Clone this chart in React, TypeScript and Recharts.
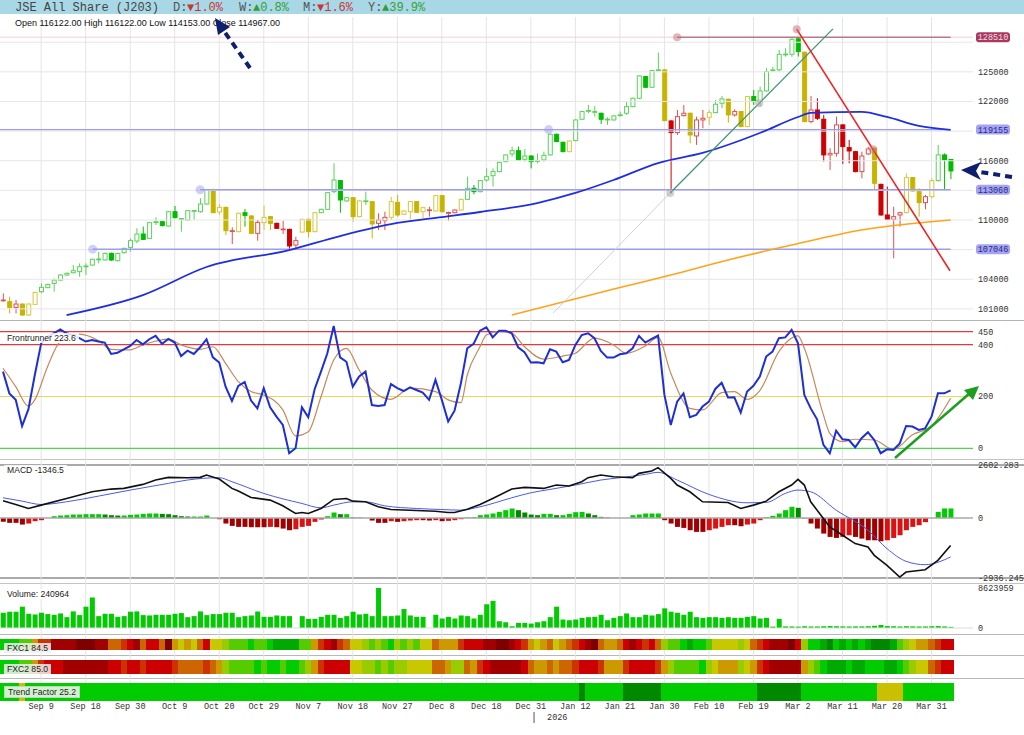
import React from "react";
import {
  ComposedChart,
  Bar,
  Line,
  XAxis,
  YAxis,
  ReferenceLine,
  ReferenceDot,
  Cell,
} from "recharts";

const W = 1024;
const PLOT_RIGHT = 973;
const AXIS_W = W - PLOT_RIGHT;
const X_DOMAIN: [number, number] = [-0.4717, 152.52];
const ZERO = { top: 0, right: 0, bottom: 0, left: 0 };
const PAD = { top: 6, right: 0, bottom: 6, left: 0 };
const MONO = '"Liberation Mono", "DejaVu Sans Mono", monospace';
const SANS = '"Liberation Sans", Arial, sans-serif';

// ---- price candles (Sep 1 2025 .. early Apr 2026) ----
const OPEN = [
  101830, 101730, 101150, 101490, 100380, 101460, 102740, 103150, 103580, 103920,
  104430, 104660, 104770, 105290, 105440, 106000, 105950, 106620, 105880, 106690,
  107230, 107870, 108580, 108140, 109780, 109830, 109390, 110840, 110100, 110000,
  110920, 110840, 111620, 112940, 110810, 111280, 108890, 108820, 110740, 110410,
  108650, 109730, 110340, 109660, 109060, 109050, 107470, 108780, 110070, 108820,
  110740, 111080, 112870, 113990, 111930, 112260, 110340, 111900, 111860, 109660,
  109930, 110270, 111790, 110570, 110840, 111860, 110840, 110990, 110910, 112470,
  110720, 110740, 111010, 112090, 113210, 112870, 114050, 114490, 114900, 115910,
  116690, 117020, 116150, 116480, 115960, 116080, 116590, 118680, 117870, 116920,
  118040, 120200, 121050, 120950, 120810, 120180, 120130, 120620, 120810, 121480,
  122330, 124520, 123440, 125170, 125200, 120030, 118850, 120570, 120810, 118510,
  120130, 120400, 120870, 121820, 122230, 120640, 120980, 119460, 122500, 121990,
  123070, 125150, 125200, 126760, 126780, 128350, 126990, 119960, 121140, 120200,
  116590, 116750, 119630, 117330, 116920, 114900, 116690, 117260, 113610, 110510,
  110070, 110510, 110740, 114290, 112870, 111760, 112360, 113990, 116590, 116122,
];
const HIGH = [
  102570, 102230, 101900, 101560, 101560, 102740, 103580, 103550, 104090, 104500,
  104700, 105440, 105610, 105610, 106100, 106790, 106700, 106700, 106700, 107200,
  108140, 109160, 109330, 109800, 110270, 109900, 110900, 111420, 110200, 111000,
  111010, 112200, 113100, 113040, 111620, 111350, 109260, 110750, 111110, 110470,
  110000, 111450, 110400, 109730, 109900, 109120, 108310, 110130, 110130, 110800,
  111150, 112830, 115740, 114050, 112330, 112330, 112000, 112870, 111920, 110680,
  110840, 112360, 112530, 110980, 111920, 111920, 111350, 111350, 112530, 112530,
  110840, 111080, 112160, 114390, 113550, 114050, 115230, 115230, 115900, 116650,
  117430, 117430, 117190, 116550, 116750, 116920, 118740, 118740, 117930, 118070,
  120200, 121040, 121650, 121550, 120870, 120400, 120600, 120980, 121990, 122390,
  124650, 124590, 125200, 126950, 125260, 120100, 121140, 121650, 120870, 120470,
  121140, 121140, 122160, 122560, 122290, 121210, 121040, 122560, 123170, 123510,
  125370, 125530, 127220, 127390, 128400, 128510, 127050, 122560, 122330, 120640,
  117260, 120470, 119690, 118110, 116990, 116920, 117430, 117330, 113680, 113380,
  111350, 110840, 114730, 114350, 113210, 112530, 114220, 117600, 116750, 116122,
];
const LOW = [
  101730, 100540, 100540, 100310, 100310, 101400, 102570, 103100, 102740, 103850,
  104350, 104600, 104260, 104430, 105350, 105610, 105900, 105850, 105800, 106600,
  106790, 107640, 107970, 108100, 109490, 109350, 109350, 110170, 108820, 109950,
  110000, 110740, 111550, 110700, 110510, 108480, 107570, 108750, 109330, 108580,
  107910, 108990, 108990, 109090, 108580, 106960, 107130, 108720, 108240, 108750,
  110700, 111020, 112700, 110740, 111850, 109830, 110270, 111520, 108140, 108990,
  108990, 110000, 110340, 110500, 110070, 110700, 110170, 110340, 110850, 110780,
  109930, 110680, 110950, 112030, 112600, 112800, 113880, 113380, 114830, 115850,
  116420, 115980, 115910, 115230, 115740, 115910, 116520, 117870, 116860, 116860,
  117970, 120130, 120810, 120470, 119730, 119630, 120070, 120470, 120640, 121420,
  122260, 123370, 123370, 125130, 120000, 112700, 118610, 120470, 117770, 117600,
  119290, 119630, 120810, 121310, 119860, 120470, 119390, 119390, 121650, 121480,
  123000, 125030, 125030, 126540, 126540, 126550, 119900, 119790, 120130, 115910,
  115070, 116420, 115670, 115740, 114830, 114220, 116590, 113040, 110440, 110000,
  106120, 109330, 110680, 112870, 110340, 111080, 112200, 113900, 113040, 114153,
];
const CLOSE = [
  101900, 101150, 101490, 100380, 101490, 102670, 103180, 103480, 103920, 104430,
  104600, 104870, 105270, 105340, 106020, 106050, 106620, 105950, 106620, 107130,
  107910, 108580, 108040, 109730, 109830, 109430, 110840, 110240, 110150, 110950,
  110960, 111620, 113040, 110740, 111280, 108920, 108920, 110680, 110470, 108650,
  109760, 110270, 109660, 109160, 109090, 107370, 107910, 110070, 108820, 110740,
  111080, 112770, 114050, 112030, 112260, 110340, 111930, 111940, 109600, 110000,
  110270, 111860, 110510, 110910, 111860, 110780, 111250, 111030, 112470, 110840,
  110760, 111010, 112090, 113210, 112870, 113990, 114390, 114900, 115840, 116590,
  117020, 116080, 116480, 115910, 116000, 116550, 118680, 117940, 116920, 118000,
  120130, 120980, 121080, 120980, 120200, 120210, 120540, 120650, 121480, 122330,
  124590, 123440, 125130, 125200, 120060, 118850, 120470, 120810, 118610, 120130,
  120300, 120870, 121720, 122260, 120640, 120980, 119460, 122500, 121990, 123070,
  125030, 125200, 126780, 126800, 128300, 127050, 119960, 121140, 120300, 116590,
  116750, 119630, 117430, 116990, 114900, 116480, 117190, 113720, 110510, 110070,
  110340, 110740, 114290, 112940, 111760, 112360, 113990, 116590, 116080, 114967,
];
// trend state of each candle: g = green, y = yellow, r = red
const TONE = [
  "r", "y", "r", "y", "y", "y", "g", "g", "g", "g",
  "g", "g", "g", "g", "g", "g", "g", "g", "g", "g",
  "g", "g", "g", "g", "g", "g", "g", "g", "g", "g",
  "g", "g", "g", "y", "y", "y", "r", "y", "g", "y",
  "r", "y", "y", "r", "r", "r", "r", "y", "y", "y",
  "g", "g", "g", "g", "g", "y", "y", "g", "y", "r",
  "r", "y", "y", "y", "y", "y", "y", "r", "y", "y",
  "r", "r", "y", "g", "g", "g", "g", "g", "g", "g",
  "g", "g", "g", "g", "g", "g", "g", "g", "g", "y",
  "g", "g", "g", "g", "g", "g", "g", "g", "g", "g",
  "g", "g", "g", "g", "y", "r", "r", "r", "y", "r",
  "r", "y", "g", "g", "y", "r", "y", "y", "g", "g",
  "g", "g", "g", "g", "g", "g", "y", "r", "r", "r",
  "r", "r", "r", "r", "r", "r", "r", "y", "r", "r",
  "r", "r", "y", "y", "y", "r", "y", "g", "g", "g",
];

// moving averages (read at these candle indices)
const MA50_AT = [10, 22, 32, 45, 53, 62, 69, 75, 84, 90, 96, 103, 110, 119, 125, 127, 135, 139, 144, 149];
const MA50 = [100380, 102400, 105240, 106960, 108380, 109700, 110300, 110810, 111720, 112740, 114050, 115770, 116790, 118810, 120430, 120840, 120940, 120430, 119520, 119120];
const MA200_AT = [80, 97, 105, 114, 124, 135, 149];
const MA200 = [100380, 103160, 104430, 105950, 107470, 108990, 110000];

// drawn levels and trend lines
const LEVELS = [128510, 119155, 113060, 107046];
const LEVEL_FROM = [106, X_DOMAIN[0], 31, 14.1];
const LEVEL_TO = 149;
const PRICE_GRID = [101000, 104000, 107000, 110000, 113000, 116000, 119000, 122000, 125000, 128000];
const PRICE_TICKS = [101000, 104000, 110000, 116000, 122000, 125000, 107046, 113060, 119155, 128510];
const RED_LINE = [[124.8, 129320], [148.9, 104860]];
const GREEN_LINE = [[104.9, 112735], [130.5, 129350]];
const GREEN_EXT = [[86.5, 100580], [104.9, 112735]];
const BLUE_DOTS = [[31, 113060], [14.1, 107046], [85.8, 119155]];
const PINK_DOTS = [[106, 128510], [124.8, 129320], [136.8, 117170]];
const GRAY_DOTS = [[104.9, 112735], [118.9, 121820]];

// Frontrunner oscillator
const FR = [
  296, 212, 187, 86, 151, 283, 405, 431, 444, 459,
  444, 437, 425, 412, 418, 412, 408, 364, 369, 382,
  395, 418, 401, 421, 434, 403, 422, 408, 356, 377,
  364, 390, 421, 351, 331, 238, 183, 241, 256, 184,
  154, 232, 158, 122, 90, -19, 0, 158, 120, 228,
  296, 367, 472, 351, 334, 238, 277, 296, 167, 163,
  167, 248, 232, 221, 235, 225, 215, 187, 264, 187,
  103, 145, 251, 386, 403, 454, 467, 428, 454, 454,
  444, 390, 371, 331, 332, 328, 382, 373, 332, 341,
  399, 437, 444, 425, 376, 350, 350, 363, 367, 386,
  434, 408, 422, 435, 206, 90, 180, 212, 120, 129,
  161, 180, 229, 253, 196, 197, 138, 219, 241, 277,
  354, 373, 425, 428, 457, 405, 206, 154, 112, 13,
  -19, 68, 35, 32, 4, 39, 62, 32, -19, -4,
  -6, 19, 86, 84, 71, 77, 122, 212, 212, 223.6,
];
const FRS_AT = [0, 2, 4, 5, 7, 9, 12, 15, 17, 20, 22, 26, 28, 31, 33, 35, 37, 39, 41, 44, 46, 48, 50, 52, 54, 56, 58, 61, 64, 68, 70, 72, 73, 75, 76, 78, 80, 82, 85, 88, 90, 93, 96, 98, 101, 103, 105, 108, 110, 113, 115, 117, 119, 122, 125, 126, 129, 130, 132, 134, 137, 140, 143, 146, 149];
const FRS = [309, 238, 163, 187, 315, 412, 441, 416, 382, 380, 399, 421, 399, 382, 392, 328, 257, 219, 206, 148, 48, 64, 199, 341, 386, 302, 225, 189, 232, 219, 187, 176, 283, 392, 437, 450, 444, 392, 344, 356, 367, 425, 399, 367, 395, 428, 290, 154, 148, 215, 219, 189, 223, 373, 434, 386, 129, 58, 26, 35, 32, -4, 52, 86, 193];
const FR_LEVELS = [450, 400, 200, 0];

// MACD
const MACD_AT = [0, 2, 4, 6, 10, 14, 17, 19, 22, 24, 26, 29, 31, 32, 34, 36, 37, 39, 42, 44, 46, 47, 48, 50, 52, 54, 55, 57, 59, 61, 65, 68, 70, 71, 73, 75, 77, 80, 82, 85, 87, 89, 91, 92, 94, 96, 99, 100, 102, 103, 105, 106, 108, 110, 114, 116, 118, 120, 122, 124, 125, 126, 127, 129, 130, 132, 134, 136, 137, 139, 141, 142, 145, 147, 149];
const MACD = [848, 667, 471, 635, 963, 1291, 1422, 1455, 1652, 1865, 1996, 1980, 1996, 2111, 1914, 1455, 1323, 1012, 881, 602, 225, 274, 225, 471, 913, 963, 831, 799, 553, 421, 372, 339, 274, 274, 438, 667, 963, 1422, 1504, 1455, 1619, 1570, 1783, 1980, 2111, 2029, 1980, 2193, 2307, 2472, 1947, 1619, 1291, 799, 766, 471, 635, 831, 1291, 1619, 1897, 1619, 799, -21, -431, -841, -1251, -1415, -1825, -2317, -2891, -2645, -2530, -2071, -1347];
const SIG_AT = [0, 3, 6, 10, 15, 20, 26, 29, 34, 36, 41, 47, 50, 52, 55, 57, 60, 65, 69, 72, 75, 80, 83, 86, 90, 94, 97, 101, 103, 106, 111, 117, 120, 123, 125, 127, 131, 136, 139, 142, 145, 149];
const SIG = [995, 831, 667, 799, 1077, 1373, 1701, 1865, 1980, 1783, 1209, 717, 503, 635, 799, 799, 602, 471, 421, 389, 553, 995, 1241, 1405, 1619, 1865, 1980, 2143, 2242, 1865, 1160, 750, 766, 1209, 1373, 1291, 389, -595, -1497, -2120, -2284, -1907];
const HIST = [
  -185, -234, -234, -317, -267, -152, -103, 0, 93, 126,
  143, 175, 175, 192, 192, 192, 175, 143, 126, 126,
  159, 175, 208, 225, 225, 208, 192, 143, 93, 77,
  77, 77, 126, 0, -54, -267, -382, -431, -431, -448,
  -448, -448, -431, -448, -513, -595, -546, -431, -382, -185,
  -70, 93, 274, 192, 192, 28, 28, 0, -120, -234,
  -234, -152, -185, -152, -120, -103, -103, -120, -103, -152,
  -136, -103, -54, 28, 44, 143, 175, 225, 307, 389,
  471, 389, 274, 175, 143, 208, 208, 143, 143, 208,
  290, 307, 225, 143, 61, 28, 0, 0, 0, 143,
  175, 225, 225, 225, -103, -267, -431, -481, -595, -677,
  -677, -595, -513, -431, -349, -349, -399, -317, -267, -103,
  44, 110, 225, 389, 553, 504, -21, -267, -513, -759,
  -923, -972, -923, -841, -923, -1005, -1087, -1087, -1136, -1087,
  -972, -841, -595, -431, -349, -200, 0, 305, 473, 473,
];
const MACD_RANGE: [number, number] = [-2936.245, 2602.283];

// Volume
const VOL = [
  3290000, 3510000, 3510000, 4600000, 3070000, 2920000, 3290000, 3000000, 2850000, 3140000,
  2340000, 3580000, 2780000, 4600000, 6580000, 2560000, 3070000, 3070000, 2410000, 2560000,
  3510000, 3580000, 2780000, 2700000, 2850000, 2850000, 2850000, 3070000, 3220000, 2340000,
  2560000, 3580000, 2780000, 3000000, 3000000, 3290000, 3290000, 2340000, 2560000, 2700000,
  3580000, 2410000, 2410000, 2700000, 2560000, 2560000, 0, 2560000, 1970000, 1970000,
  2410000, 2850000, 2850000, 2190000, 2560000, 3510000, 2920000, 3070000, 2560000, 8623959,
  2560000, 2560000, 2700000, 4090000, 2700000, 2410000, 2410000, 0, 2850000, 2050000,
  2410000, 2050000, 2700000, 2560000, 2050000, 2850000, 5120000, 5850000, 1460000, 1240000,
  370000, 1100000, 1100000, 950000, 1240000, 1460000, 2340000, 4600000, 1830000, 1680000,
  1830000, 2190000, 2340000, 2410000, 2850000, 1680000, 2190000, 2560000, 3140000, 2340000,
  2340000, 2850000, 2700000, 3000000, 4240000, 3510000, 3290000, 2850000, 3510000, 2340000,
  2190000, 2340000, 2340000, 2190000, 2340000, 2190000, 2190000, 2410000, 2560000, 2050000,
  2190000, 300000, 1970000, 350000, 330000, 300000, 380000, 330000, 330000, 380000,
  420000, 380000, 350000, 330000, 350000, 350000, 380000, 480000, 650000, 420000,
  380000, 330000, 380000, 350000, 330000, 330000, 380000, 420000, 330000, 240964,
];
const VOL_MAX = 8623959;

// FXC heat strips: 0 = deep red ... 11 = deep green
const FXC1 = [
  9, 9, 9, 8, 8, 5, 3, 3, 1, 1,
  1, 1, 0, 0, 0, 1, 1, 4, 4, 3,
  2, 1, 4, 2, 2, 4, 0, 5, 6, 5,
  6, 4, 2, 6, 6, 7, 8, 8, 8, 9,
  8, 8, 9, 10, 10, 10, 10, 8, 8, 5,
  3, 2, 1, 3, 4, 6, 6, 7, 8, 7,
  8, 9, 7, 8, 7, 8, 6, 6, 4, 5,
  5, 5, 3, 2, 2, 2, 1, 1, 0, 0,
  1, 2, 3, 5, 6, 5, 4, 6, 5, 4,
  3, 2, 1, 0, 4, 5, 5, 4, 2, 1,
  2, 3, 2, 4, 7, 8, 8, 9, 10, 9,
  9, 8, 6, 6, 6, 6, 7, 6, 4, 3,
  2, 1, 1, 1, 0, 2, 7, 9, 9, 10,
  11, 9, 10, 9, 10, 9, 10, 11, 11, 11,
  10, 8, 7, 6, 5, 5, 4, 3, 2, 2,
];
const FXC2 = [
  9, 9, 9, 8, 8, 5, 3, 2, 2, 2,
  1, 1, 1, 1, 1, 1, 1, 2, 2, 3,
  2, 2, 3, 2, 2, 2, 2, 3, 4, 4,
  4, 4, 3, 4, 5, 7, 8, 8, 8, 8,
  9, 8, 9, 9, 8, 9, 9, 8, 7, 5,
  3, 2, 2, 2, 2, 6, 6, 7, 7, 8,
  7, 8, 7, 7, 6, 6, 6, 6, 4, 4,
  5, 7, 7, 4, 5, 3, 2, 1, 1, 1,
  1, 1, 2, 4, 5, 5, 4, 5, 4, 4,
  3, 2, 2, 2, 3, 5, 5, 5, 3, 2,
  2, 2, 2, 3, 5, 7, 8, 8, 8, 8,
  9, 7, 6, 5, 5, 5, 7, 6, 5, 3,
  2, 1, 1, 1, 1, 1, 5, 7, 8, 9,
  10, 10, 10, 9, 10, 10, 9, 9, 9, 10,
  10, 9, 8, 7, 6, 6, 4, 3, 2, 2,
];
const TREND_DARK = [91, 98, 99, 100, 101, 102, 103, 119, 120, 121, 122, 123, 124, 125];
const TREND_YELLOW = [3, 138, 139, 140, 141];

// date axis
const TICK_IDX = [6, 13, 20, 27, 34, 41, 48, 55, 62, 69, 76, 83, 90, 97, 104, 111, 118, 125, 132, 139, 146];
const TICK_TXT = ["Sep 9", "Sep 18", "Sep 30", "Oct 9", "Oct 20", "Oct 29", "Nov 7", "Nov 18", "Nov 27", "Dec 8", "Dec 18", "Dec 31", "Jan 12", "Jan 21", "Jan 30", "Feb 10", "Feb 19", "Mar 2", "Mar 11", "Mar 20", "Mar 31"];
const YEAR_AT = 83.5;

const HEAT = ["#800000", "#a00000", "#cc0000", "#cc3300", "#cc6600", "#cc9900", "#c8c800", "#99cc00", "#55cc00", "#00cc00", "#00aa00", "#008800"];
const TONE_COLORS: Record<string, { line: string; fill: string }> = {
  g: { line: "#5ad25a", fill: "#00bb00" },
  y: { line: "#d6c640", fill: "#c6b400" },
  r: { line: "#e05050", fill: "#cc0000" },
};
const BOX_STYLE: Record<number, { bg: string; fg: string }> = {
  128510: { bg: "#a83a60", fg: "#f6dbe4" },
  119155: { bg: "#a4a4f2", fg: "#2a2a8a" },
  113060: { bg: "#a4a4f2", fg: "#2a2a8a" },
  107046: { bg: "#a4a4f2", fg: "#2a2a8a" },
};

function pick(at: number[], vals: number[], i: number) {
  const k = at.indexOf(i);
  return k >= 0 ? vals[k] : null;
}

const rows = OPEN.map((o, i) => ({
  i,
  o,
  h: HIGH[i],
  l: LOW[i],
  c: CLOSE[i],
  tone: TONE[i],
  ma50: pick(MA50_AT, MA50, i),
  ma200: pick(MA200_AT, MA200, i),
  fr: FR[i],
  frs: pick(FRS_AT, FRS, i),
  macd: pick(MACD_AT, MACD, i),
  sig: pick(SIG_AT, SIG, i),
  hist: HIST[i],
  vol: VOL[i],
  one: 1,
}));

function histColor(i: number) {
  const v = HIST[i];
  const p = i > 0 ? HIST[i - 1] : v;
  if (v >= 0) return v >= p ? "#00cc00" : "#008a00";
  return v <= p ? "#a00000" : "#dd1111";
}

function trendColor(i: number) {
  if (TREND_YELLOW.includes(i)) return "#c8c000";
  if (TREND_DARK.includes(i)) return "#008800";
  return "#00cc00";
}

function Candle(props: any) {
  const { x, y, width, height, payload } = props;
  if (x == null || !payload) return null;
  const { o, h, l, c, tone } = payload;
  const span = h - l || 1;
  const toY = (v: number) => y + ((h - v) / span) * height;
  const up = c >= o;
  const col = TONE_COLORS[tone];
  const stroke = up ? col.line : col.fill;
  const top = toY(Math.max(o, c));
  const bot = toY(Math.min(o, c));
  const cx = x + width / 2;
  return (
    <g>
      <line x1={cx} x2={cx} y1={y} y2={y + height} stroke={stroke} strokeWidth={1} />
      <rect
        x={x + 0.5}
        y={top}
        width={width - 1}
        height={Math.max(bot - top, 0.8)}
        fill={up ? "#ffffff" : col.fill}
        stroke={stroke}
        strokeWidth={1}
      />
    </g>
  );
}

function PriceTick(p: any) {
  const v = p.payload.value;
  const box = BOX_STYLE[v];
  if (box) {
    return (
      <g>
        <rect x={p.x - 2} y={p.y - 5} width={34} height={10} rx={3} fill={box.bg} />
        <text x={p.x + 15} y={p.y + 3} textAnchor="middle" fontFamily={MONO} fontSize={8.5} fill={box.fg}>
          {v}
        </text>
      </g>
    );
  }
  return (
    <text x={p.x} y={p.y + 3} fontFamily={MONO} fontSize={8.5} fill="#333">
      {v}
    </text>
  );
}

function plainTick(fmt: (v: number) => string) {
  return (p: any) => (
    <text x={p.x} y={p.y + 3} fontFamily={MONO} fontSize={8.5} fill="#333">
      {fmt(p.payload.value)}
    </text>
  );
}

function DateTick(p: any) {
  const k = TICK_IDX.indexOf(p.payload.value);
  return (
    <text x={p.x} y={p.y + 6} textAnchor="middle" fontFamily={MONO} fontSize={8.5} fill="#333">
      {TICK_TXT[k]}
    </text>
  );
}

function YearMark(p: any) {
  const vb = p.viewBox;
  const bottom = vb.y + vb.height;
  return (
    <g>
      <line x1={vb.x} x2={vb.x} y1={bottom + 9} y2={bottom + 20} stroke="#555" strokeWidth={1} />
      <text x={vb.x + 13} y={bottom + 17} fontFamily={MONO} fontSize={8.5} fill="#333">
        2026
      </text>
    </g>
  );
}

const xAxisHidden = (
  <XAxis type="number" dataKey="i" domain={X_DOMAIN} hide allowDataOverflow />
);

function GridChart() {
  return (
    <ComposedChart width={W} height={718} data={rows} margin={{ ...ZERO, right: AXIS_W }}>
      <XAxis
        type="number"
        dataKey="i"
        domain={X_DOMAIN}
        allowDataOverflow
        ticks={TICK_IDX}
        interval={0}
        height={32}
        tickLine={false}
        axisLine={false}
        tickSize={0}
        tickMargin={0}
        tick={DateTick}
      />
      <YAxis hide domain={[0, 1]} />
      {TICK_IDX.map((t) => (
        <ReferenceLine key={t} x={t} stroke="#e4e4e4" strokeWidth={1} />
      ))}
      <ReferenceLine x={YEAR_AT} stroke="none" label={YearMark} />
      <Line dataKey="one" stroke="none" dot={false} isAnimationActive={false} />
    </ComposedChart>
  );
}

function PriceChart() {
  const seg = (pts: number[][]) => [
    { x: pts[0][0], y: pts[0][1] },
    { x: pts[1][0], y: pts[1][1] },
  ];
  return (
    <ComposedChart width={W} height={302} data={rows} margin={ZERO}>
      {xAxisHidden}
      <YAxis
        orientation="right"
        width={AXIS_W}
        domain={[100078, 130655]}
        allowDataOverflow
        ticks={PRICE_TICKS}
        interval={0}
        tickLine={false}
        axisLine={false}
        tickSize={0}
        tickMargin={5}
        tick={PriceTick}
      />
      {PRICE_GRID.map((v) => (
        <ReferenceLine key={v} y={v} stroke="#e6e6e6" strokeWidth={1} />
      ))}
      <ReferenceLine y={LEVELS[0]} stroke="#eed2d8" strokeWidth={1} />
      {LEVELS.map((v, k) => (
        <ReferenceLine
          key={"lv" + v}
          segment={[
            { x: LEVEL_FROM[k], y: v },
            { x: LEVEL_TO, y: v },
          ]}
          stroke={k === 0 ? "#a04462" : "#9c9cf2"}
          strokeWidth={k === 0 ? 1 : 1.4}
        />
      ))}
      <Line dataKey="ma200" type="monotone" connectNulls stroke="#ffa31a" strokeWidth={1.6} dot={false} isAnimationActive={false} />
      <Line dataKey="ma50" type="monotone" connectNulls stroke="#1f2fe0" strokeWidth={1.8} dot={false} isAnimationActive={false} />
      <ReferenceLine segment={seg(GREEN_EXT)} stroke="#d0d0d0" strokeWidth={1} />
      <Bar dataKey={(d: any) => [d.l, d.h]} barSize={5} shape={Candle} isAnimationActive={false} />
      <ReferenceLine segment={seg(GREEN_LINE)} stroke="#3f9676" strokeWidth={1.3} />
      <ReferenceLine segment={seg(RED_LINE)} stroke="#ee2424" strokeWidth={1.6} />
      {BLUE_DOTS.map((d) => (
        <ReferenceDot key={"b" + d[0]} x={d[0]} y={d[1]} r={4.5} fill="rgba(150,150,235,0.45)" stroke="none" />
      ))}
      {PINK_DOTS.map((d) => (
        <ReferenceDot key={"p" + d[0]} x={d[0]} y={d[1]} r={4} fill="rgba(200,110,120,0.5)" stroke="none" />
      ))}
      {GRAY_DOTS.map((d) => (
        <ReferenceDot key={"g" + d[0]} x={d[0]} y={d[1]} r={4} fill="rgba(170,170,170,0.55)" stroke="none" />
      ))}
    </ComposedChart>
  );
}

function FrontrunnerChart() {
  const colors = ["#e23a3a", "#e23a3a", "#e6da58", "#4cd84c"];
  return (
    <ComposedChart width={W} height={138} data={rows} margin={ZERO}>
      {xAxisHidden}
      <YAxis
        orientation="right"
        width={AXIS_W}
        domain={[-41.3, 491.3]}
        allowDataOverflow
        ticks={FR_LEVELS}
        interval={0}
        tickLine={false}
        axisLine={false}
        tickSize={0}
        tickMargin={5}
        tick={plainTick((v) => String(v))}
      />
      {FR_LEVELS.map((v, k) => (
        <ReferenceLine key={v} y={v} stroke={colors[k]} strokeWidth={1.2} />
      ))}
      <Line dataKey="frs" type="monotone" connectNulls stroke="#c48a5c" strokeWidth={1.2} dot={false} isAnimationActive={false} />
      <Line dataKey="fr" type="linear" stroke="#1f2fd6" strokeWidth={2} dot={false} isAnimationActive={false} />
    </ComposedChart>
  );
}

function MacdChart() {
  return (
    <ComposedChart width={W} height={125} data={rows} margin={PAD}>
      {xAxisHidden}
      <YAxis
        orientation="right"
        width={AXIS_W}
        domain={MACD_RANGE}
        allowDataOverflow
        ticks={[MACD_RANGE[0], 0, MACD_RANGE[1]]}
        interval={0}
        tickLine={false}
        axisLine={false}
        tickSize={0}
        tickMargin={5}
        tick={plainTick((v) => (v === 0 ? "0" : v.toFixed(3)))}
      />
      <ReferenceLine y={0} stroke="#a8a8a8" strokeWidth={1.5} />
      <Bar dataKey="hist" barSize={5} isAnimationActive={false}>
        {rows.map((r) => (
          <Cell key={r.i} fill={histColor(r.i)} />
        ))}
      </Bar>
      <Line dataKey="sig" type="monotone" connectNulls stroke="#4a5ae8" strokeWidth={1} dot={false} isAnimationActive={false} />
      <Line dataKey="macd" type="linear" connectNulls stroke="#111111" strokeWidth={1.6} dot={false} isAnimationActive={false} />
    </ComposedChart>
  );
}

function VolumeChart() {
  return (
    <ComposedChart width={W} height={52} data={rows} margin={PAD}>
      {xAxisHidden}
      <YAxis
        orientation="right"
        width={AXIS_W}
        domain={[0, VOL_MAX]}
        allowDataOverflow
        ticks={[0, VOL_MAX]}
        interval={0}
        tickLine={false}
        axisLine={false}
        tickSize={0}
        tickMargin={5}
        tick={plainTick((v) => String(v))}
      />
      <ReferenceLine y={0} stroke="#dcdcdc" strokeWidth={1} />
      <Bar dataKey="vol" barSize={5} fill="#00cc00" isAnimationActive={false} />
    </ComposedChart>
  );
}

function Strip({ height, color }: { height: number; color: (i: number) => string }) {
  // heat cells drawn with crisp edges so neighbouring cells meet without seams
  const cell = (p: any) => {
    if (p.x == null || !p.payload) return null;
    const x0 = Math.round(p.x);
    const x1 = Math.round(p.x + p.width) + 1;
    return <rect x={x0} y={p.y} width={x1 - x0} height={p.height} fill={color(p.payload.i)} shapeRendering="crispEdges" />;
  };
  return (
    <ComposedChart width={W} height={height} data={rows} margin={{ ...ZERO, right: AXIS_W }}>
      {xAxisHidden}
      <YAxis hide domain={[0, 1]} />
      <Bar dataKey="one" barSize={6.4} shape={cell} isAnimationActive={false} />
    </ComposedChart>
  );
}

function At({ top, children }: { top: number; children: React.ReactNode }) {
  return <div style={{ position: "absolute", left: 0, top }}>{children}</div>;
}

function Rule({ top, h = 1, color = "#b4b4b4" }: { top: number; h?: number; color?: string }) {
  return <div style={{ position: "absolute", left: 0, top, width: W, height: h, background: color }} />;
}

function Tag({ top, text, bg = "rgba(255,255,255,0.85)", border }: { top: number; text: string; bg?: string; border?: string }) {
  return (
    <div
      style={{
        position: "absolute",
        left: 4,
        top,
        padding: "0 3px",
        height: 10,
        lineHeight: "10px",
        fontFamily: SANS,
        fontSize: 8.6,
        color: "#222",
        background: bg,
        border: border ? `1px solid ${border}` : undefined,
        whiteSpace: "nowrap",
      }}
    >
      {text}
    </div>
  );
}

export default function App() {
  return (
    <div style={{ position: "absolute", left: 0, top: 0, width: W, height: 735, background: "#ffffff", overflow: "hidden" }}>
      <div style={{ position: "absolute", left: 0, top: 0, width: W, height: 14, background: "#a8d8e6" }} />

      {/* panel separators sit underneath the charts so axis labels stay readable */}
      <Rule top={320} />
      <Rule top={459} color="#c4c4c4" />
      <Rule top={464} h={1.5} color="#aaaaaa" />
      <Rule top={577} h={1.5} color="#aaaaaa" />
      <Rule top={583} color="#c4c4c4" />
      <Rule top={634} color="#b8b8b8" />
      <Rule top={655} color="#b8b8b8" />
      <Rule top={678} color="#b8b8b8" />

      <At top={17}>
        <GridChart />
      </At>
      <At top={16}>
        <PriceChart />
      </At>
      <At top={321}>
        <FrontrunnerChart />
      </At>
      <At top={459}>
        <MacdChart />
      </At>
      <At top={582}>
        <VolumeChart />
      </At>
      <At top={639}>
        <Strip height={11} color={(i) => HEAT[FXC1[i]]} />
      </At>
      <At top={660}>
        <Strip height={13.5} color={(i) => HEAT[FXC2[i]]} />
      </At>
      <At top={683}>
        <Strip height={18} color={trendColor} />
      </At>

      <Tag top={333} text="Frontrunner 223.6" />
      <Tag top={465} text="MACD -1346.5" />
      <Tag top={589} text="Volume: 240964" />
      <Tag top={643} text="FXC1 84.5" bg="rgba(240,240,240,0.85)" />
      <Tag top={664} text="FXC2 85.0" bg="rgba(240,240,240,0.85)" />
      <Tag top={686} text="Trend Factor 25.2" bg="rgba(232,245,232,0.9)" border="#bcd8bc" />

      <svg width={W} height={735} style={{ position: "absolute", left: 0, top: 0, pointerEvents: "none" }}>
        <g fontFamily={MONO} fontSize={12}>
          <text x={15} y={11} fill="#444">JSE All Share (J203)</text>
          <text x={173} y={11} fill="#555">D:</text>
          <text x={187} y={11} fill="#cc3333">▼1.0%</text>
          <text x={239} y={11} fill="#555">W:</text>
          <text x={253} y={11} fill="#33a033">▲0.8%</text>
          <text x={303} y={11} fill="#555">M:</text>
          <text x={317} y={11} fill="#cc3333">▼1.6%</text>
          <text x={368} y={11} fill="#555">Y:</text>
          <text x={382} y={11} fill="#33a033">▲39.9%</text>
        </g>
        <text x={15} y={26} fontFamily={SANS} fontSize={9} fill="#111">
          Open 116122.00 High 116122.00 Low 114153.00 Close 114967.00
        </text>

        <line x1={250} y1={68} x2={224} y2={31} stroke="#0f1f70" strokeWidth={4} strokeDasharray="7 5" />
        <polygon points="215,18 230,27 224,31 218,35" fill="#0f1f70" />

        <line x1={1012} y1={177} x2={980} y2={172} stroke="#0f1f70" strokeWidth={4} strokeDasharray="7 5" />
        <polygon points="961,170 981,162 976,171 981,180" fill="#0f1f70" />

        <line x1={895} y1={458} x2={970} y2={393} stroke="#1e9e1e" strokeWidth={2.5} />
        <polygon points="979,386 973,400 964,390" fill="#1e9e1e" />
      </svg>
    </div>
  );
}
